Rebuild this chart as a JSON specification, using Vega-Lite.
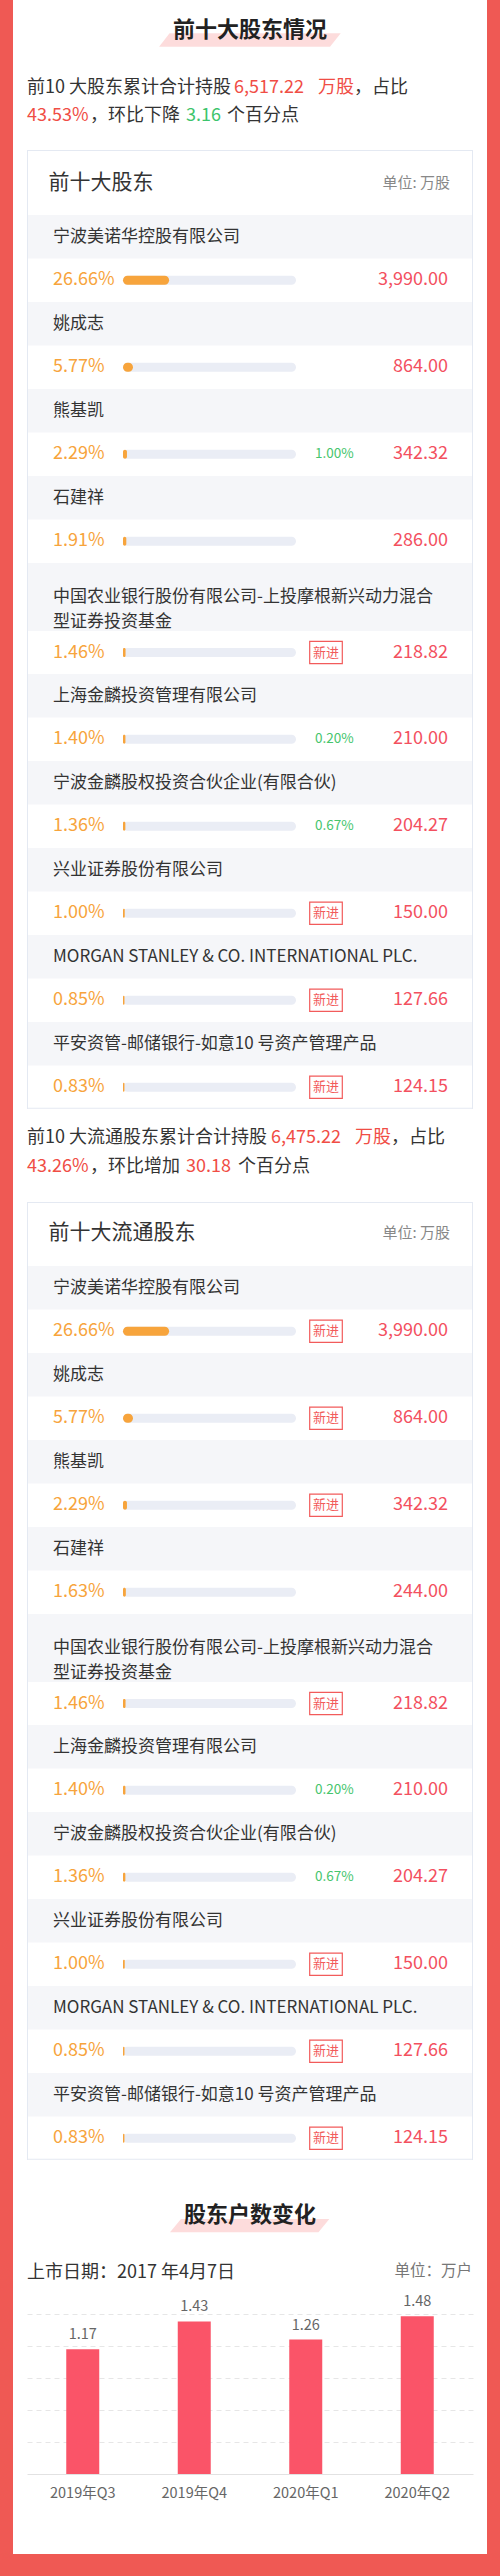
{
"$schema":"https://vega.github.io/schema/vega-lite/v6.json",
"background":"#ef5954",
"padding":{"left":13,"right":13,"top":0,"bottom":22},
"spacing":0,
"config":{"font":"Noto Sans CJK SC","view":{"fill":"#ffffff","stroke":null},"text":{"align":"left","baseline":"middle"}},
"datasets":{
"holders":[
{"t":1,"rank":1,"name":"宁波美诺华控股有限公司","pct":0.2666,"change":null,"isNew":false,"value":3990.00},
{"t":1,"rank":2,"name":"姚成志","pct":0.0577,"change":null,"isNew":false,"value":864.00},
{"t":1,"rank":3,"name":"熊基凯","pct":0.0229,"change":0.01,"isNew":false,"value":342.32},
{"t":1,"rank":4,"name":"石建祥","pct":0.0191,"change":null,"isNew":false,"value":286.00},
{"t":1,"rank":5,"name":"中国农业银行股份有限公司-上投摩根新兴动力混合\n型证券投资基金","pct":0.0146,"change":null,"isNew":true,"value":218.82},
{"t":1,"rank":6,"name":"上海金麟投资管理有限公司","pct":0.014,"change":0.002,"isNew":false,"value":210.00},
{"t":1,"rank":7,"name":"宁波金麟股权投资合伙企业(有限合伙)","pct":0.0136,"change":0.0067,"isNew":false,"value":204.27},
{"t":1,"rank":8,"name":"兴业证券股份有限公司","pct":0.01,"change":null,"isNew":true,"value":150.00},
{"t":1,"rank":9,"name":"MORGAN STANLEY & CO. INTERNATIONAL PLC.","pct":0.0085,"change":null,"isNew":true,"value":127.66},
{"t":1,"rank":10,"name":"平安资管-邮储银行-如意10 号资产管理产品","pct":0.0083,"change":null,"isNew":true,"value":124.15},
{"t":2,"rank":1,"name":"宁波美诺华控股有限公司","pct":0.2666,"change":null,"isNew":true,"value":3990.00},
{"t":2,"rank":2,"name":"姚成志","pct":0.0577,"change":null,"isNew":true,"value":864.00},
{"t":2,"rank":3,"name":"熊基凯","pct":0.0229,"change":null,"isNew":true,"value":342.32},
{"t":2,"rank":4,"name":"石建祥","pct":0.0163,"change":null,"isNew":false,"value":244.00},
{"t":2,"rank":5,"name":"中国农业银行股份有限公司-上投摩根新兴动力混合\n型证券投资基金","pct":0.0146,"change":null,"isNew":true,"value":218.82},
{"t":2,"rank":6,"name":"上海金麟投资管理有限公司","pct":0.014,"change":0.002,"isNew":false,"value":210.00},
{"t":2,"rank":7,"name":"宁波金麟股权投资合伙企业(有限合伙)","pct":0.0136,"change":0.0067,"isNew":false,"value":204.27},
{"t":2,"rank":8,"name":"兴业证券股份有限公司","pct":0.01,"change":null,"isNew":true,"value":150.00},
{"t":2,"rank":9,"name":"MORGAN STANLEY & CO. INTERNATIONAL PLC.","pct":0.0085,"change":null,"isNew":true,"value":127.66},
{"t":2,"rank":10,"name":"平安资管-邮储银行-如意10 号资产管理产品","pct":0.0083,"change":null,"isNew":true,"value":124.15}
],
"summary":[
{"t":1,"total":6517.22,"ratio":0.4353,"chg":3.16},
{"t":2,"total":6475.22,"ratio":0.4326,"chg":30.18}
],
"households":[
{"q":"2019年Q3","v":1.17},
{"q":"2019年Q4","v":1.43},
{"q":"2020年Q1","v":1.26},
{"q":"2020年Q2","v":1.48}
]
},
"vconcat":[
{"width":474,"height":66,"data":{"values":[{"title":"前十大股东情况"}]},
 "layer":[
  {"mark":{"type":"point","shape":"M-0.894,-0.074L1.008,-0.074L0.889,0.074L-1.01,0.074Z","size":32400,"filled":true,"color":"#fddcdc","opacity":1,"strokeWidth":0.01},"encoding":{"x":{"value":237},"y":{"value":40}}},
  {"mark":{"type":"text","align":"center","fontSize":22,"fontWeight":"bold","color":"#222222"},"encoding":{"x":{"value":237},"y":{"value":30},"text":{"field":"title"}}}
 ]},
{"width":474,"height":84,"data":{"name":"summary"},"transform":[{"filter":"datum.t == 1"}],
 "layer":[
  {"mark":{"type":"text","fontSize":18,"color":"#333333","text":"前10 大股东累计合计持股"},"encoding":{"x":{"value":14},"y":{"value":22}}},
  {"mark":{"type":"text","fontSize":18,"color":"#f04d45"},"encoding":{"x":{"value":221},"y":{"value":22},"text":{"field":"total","type":"quantitative","format":",.2f"}}},
  {"mark":{"type":"text","fontSize":18,"color":"#f04d45","text":"万股"},"encoding":{"x":{"value":305},"y":{"value":22}}},
  {"mark":{"type":"text","fontSize":18,"color":"#333333","text":"，占比"},"encoding":{"x":{"value":341},"y":{"value":22}}},
  {"mark":{"type":"text","fontSize":18,"color":"#f04d45"},"encoding":{"x":{"value":14},"y":{"value":50},"text":{"field":"ratio","type":"quantitative","format":".2%"}}},
  {"mark":{"type":"text","fontSize":18,"color":"#333333","text":"，环比下降"},"encoding":{"x":{"value":77},"y":{"value":50}}},
  {"mark":{"type":"text","fontSize":18,"color":"#3dc46c"},"encoding":{"x":{"value":173},"y":{"value":50},"text":{"field":"chg","type":"quantitative","format":".2f"}}},
  {"mark":{"type":"text","fontSize":18,"color":"#333333","text":"个百分点"},"encoding":{"x":{"value":214},"y":{"value":50}}}
 ]},
{"width":474,"height":65,"data":{"values":[{"head":"前十大股东","unit":"单位: 万股"}]},
 "layer":[
  {"mark":{"type":"point","shape":"M-1,-0.145516H1V-0.141032H-1Z M-1,-0.145516H-0.995516V0.145516H-1Z M0.995516,-0.145516H1V0.145516H0.995516Z","size":198916,"filled":true,"color":"#e4e9f2","opacity":1,"strokeWidth":0.01},"encoding":{"x":{"value":237},"y":{"value":32.5}}},
  {"mark":{"type":"text","fontSize":21,"color":"#333333"},"encoding":{"x":{"value":35.5},"y":{"value":33},"text":{"field":"head"}}},
  {"mark":{"type":"text","align":"right","fontSize":15,"color":"#888888"},"encoding":{"x":{"value":437},"y":{"value":33},"text":{"field":"unit"}}}
 ]},
{"data":{"name":"holders"},"transform":[{"filter":"datum.t == 1 && datum.rank <= 4"}],
 "facet":{"row":{"field":"rank","type":"ordinal","header":null}},
 "spacing":0,"bounds":"flush",
 "spec":{"width":474,"height":87,"layer":[
  {"mark":{"type":"point","shape":"M-1,-0.097748H1V0.097748H-1Z","size":197136,"filled":true,"color":"#f5f6f9","opacity":1,"strokeWidth":0.01},"encoding":{"x":{"value":237},"y":{"datum":"name","type":"nominal","scale":{"type":"band","domain":["name","bar"],"paddingInner":0,"paddingOuter":0},"axis":null}}},
  {"mark":{"type":"text","fontSize":17,"color":"#333333"},"encoding":{"x":{"value":40},"y":{"datum":"name","type":"nominal","scale":{"type":"band","domain":["name","bar"],"paddingInner":0,"paddingOuter":0},"axis":null},"text":{"field":"name"}}},
  {"mark":{"type":"bar","height":9,"cornerRadius":4.5,"color":"#eaedf5"},"encoding":{"x":{"datum":1,"type":"quantitative","stack":null,"scale":{"domain":[0,1],"range":[110,283]},"axis":null},"y":{"datum":"bar","type":"nominal","scale":{"type":"band","domain":["name","bar"],"paddingInner":0,"paddingOuter":0},"axis":null}}},
  {"mark":{"type":"bar","height":9,"cornerRadius":4.5,"color":"#f7a43c"},"encoding":{"x":{"field":"pct","type":"quantitative","stack":null,"scale":{"domain":[0,1],"range":[110,283]},"axis":null},"y":{"datum":"bar","type":"nominal","scale":{"type":"band","domain":["name","bar"],"paddingInner":0,"paddingOuter":0},"axis":null}}},
  {"mark":{"type":"text","fontSize":18,"color":"#f7a43c"},"encoding":{"x":{"value":40},"y":{"datum":"bar","type":"nominal","scale":{"type":"band","domain":["name","bar"],"paddingInner":0,"paddingOuter":0},"axis":null},"text":{"field":"pct","type":"quantitative","format":".2%"}}},
  {"transform":[{"filter":"datum.isNew"}],"mark":{"type":"point","shape":"M-1,-0.6875H1V0.6875H-1Z","size":1063,"filled":false,"color":"#f25b5b","opacity":1,"strokeWidth":1.2},"encoding":{"x":{"value":313},"y":{"datum":"bar","type":"nominal","scale":{"type":"band","domain":["name","bar"],"paddingInner":0,"paddingOuter":0},"axis":null}}},
  {"transform":[{"filter":"datum.isNew"}],"mark":{"type":"text","align":"center","fontSize":13,"color":"#f25b5b","text":"新进"},"encoding":{"x":{"value":313},"y":{"datum":"bar","type":"nominal","scale":{"type":"band","domain":["name","bar"],"paddingInner":0,"paddingOuter":0},"axis":null}}},
  {"transform":[{"filter":"isValid(datum.change)"}],"mark":{"type":"text","fontSize":13.5,"color":"#46c56d"},"encoding":{"x":{"value":302},"y":{"datum":"bar","type":"nominal","scale":{"type":"band","domain":["name","bar"],"paddingInner":0,"paddingOuter":0},"axis":null},"text":{"field":"change","type":"quantitative","format":".2%"}}},
  {"mark":{"type":"text","align":"right","fontSize":18,"color":"#f3505f"},"encoding":{"x":{"value":435},"y":{"datum":"bar","type":"nominal","scale":{"type":"band","domain":["name","bar"],"paddingInner":0,"paddingOuter":0},"axis":null},"text":{"field":"value","type":"quantitative","format":",.2f"}}},
  {"mark":{"type":"point","shape":"M-1,-0.194843H-0.995516V0.194843H-1Z M0.995516,-0.194843H1V0.194843H0.995516Z","size":198916,"filled":true,"color":"#e4e9f2","opacity":1,"strokeWidth":0.01},"encoding":{"x":{"value":237},"y":{"value":43.5}}}
 ]}},
{"width":474,"height":68,"data":{"name":"holders"},"transform":[{"filter":"datum.t == 1 && datum.rank == 5"}],
 "layer":[
  {"mark":{"type":"point","shape":"M-1,-0.152928H1V0.152928H-1Z","size":197136,"filled":true,"color":"#f5f6f9","opacity":1,"strokeWidth":0.01},"encoding":{"x":{"value":237},"y":{"value":34}}},
  {"mark":{"type":"point","shape":"M-1,-0.152242H-0.995516V0.152242H-1Z M0.995516,-0.152242H1V0.152242H0.995516Z","size":198916,"filled":true,"color":"#e4e9f2","opacity":1,"strokeWidth":0.01},"encoding":{"x":{"value":237},"y":{"value":34}}},
  {"mark":{"type":"text","fontSize":17,"color":"#333333","lineBreak":"\n","lineHeight":25.3},"encoding":{"x":{"value":40},"y":{"value":34},"text":{"field":"name"}}}
 ]},
{"width":474,"height":43,"data":{"name":"holders"},"transform":[{"filter":"datum.t == 1 && datum.rank == 5"}],
 "layer":[
  {"mark":{"type":"bar","height":9,"cornerRadius":4.5,"color":"#eaedf5"},"encoding":{"x":{"datum":1,"type":"quantitative","stack":null,"scale":{"domain":[0,1],"range":[110,283]},"axis":null},"y":{"datum":"bar","type":"nominal","scale":{"type":"band","domain":["bar"],"paddingInner":0,"paddingOuter":0},"axis":null}}},
  {"mark":{"type":"bar","height":9,"cornerRadius":4.5,"color":"#f7a43c"},"encoding":{"x":{"field":"pct","type":"quantitative","stack":null,"scale":{"domain":[0,1],"range":[110,283]},"axis":null},"y":{"datum":"bar","type":"nominal","scale":{"type":"band","domain":["bar"],"paddingInner":0,"paddingOuter":0},"axis":null}}},
  {"mark":{"type":"text","fontSize":18,"color":"#f7a43c"},"encoding":{"x":{"value":40},"y":{"datum":"bar","type":"nominal","scale":{"type":"band","domain":["bar"],"paddingInner":0,"paddingOuter":0},"axis":null},"text":{"field":"pct","type":"quantitative","format":".2%"}}},
  {"transform":[{"filter":"datum.isNew"}],"mark":{"type":"point","shape":"M-1,-0.6875H1V0.6875H-1Z","size":1063,"filled":false,"color":"#f25b5b","opacity":1,"strokeWidth":1.2},"encoding":{"x":{"value":313},"y":{"datum":"bar","type":"nominal","scale":{"type":"band","domain":["bar"],"paddingInner":0,"paddingOuter":0},"axis":null}}},
  {"transform":[{"filter":"datum.isNew"}],"mark":{"type":"text","align":"center","fontSize":13,"color":"#f25b5b","text":"新进"},"encoding":{"x":{"value":313},"y":{"datum":"bar","type":"nominal","scale":{"type":"band","domain":["bar"],"paddingInner":0,"paddingOuter":0},"axis":null}}},
  {"transform":[{"filter":"isValid(datum.change)"}],"mark":{"type":"text","fontSize":13.5,"color":"#46c56d"},"encoding":{"x":{"value":302},"y":{"datum":"bar","type":"nominal","scale":{"type":"band","domain":["bar"],"paddingInner":0,"paddingOuter":0},"axis":null},"text":{"field":"change","type":"quantitative","format":".2%"}}},
  {"mark":{"type":"text","align":"right","fontSize":18,"color":"#f3505f"},"encoding":{"x":{"value":435},"y":{"datum":"bar","type":"nominal","scale":{"type":"band","domain":["bar"],"paddingInner":0,"paddingOuter":0},"axis":null},"text":{"field":"value","type":"quantitative","format":",.2f"}}},
  {"mark":{"type":"point","shape":"M-1,-0.096188H-0.995516V0.096188H-1Z M0.995516,-0.096188H1V0.096188H0.995516Z","size":198916,"filled":true,"color":"#e4e9f2","opacity":1,"strokeWidth":0.01},"encoding":{"x":{"value":237},"y":{"value":21.5}}}
 ]},
{"data":{"name":"holders"},"transform":[{"filter":"datum.t == 1 && datum.rank >= 6"}],
 "facet":{"row":{"field":"rank","type":"ordinal","header":null}},
 "spacing":0,"bounds":"flush",
 "spec":{"width":474,"height":87,"layer":[
  {"mark":{"type":"point","shape":"M-1,-0.097748H1V0.097748H-1Z","size":197136,"filled":true,"color":"#f5f6f9","opacity":1,"strokeWidth":0.01},"encoding":{"x":{"value":237},"y":{"datum":"name","type":"nominal","scale":{"type":"band","domain":["name","bar"],"paddingInner":0,"paddingOuter":0},"axis":null}}},
  {"mark":{"type":"text","fontSize":17,"color":"#333333"},"encoding":{"x":{"value":40},"y":{"datum":"name","type":"nominal","scale":{"type":"band","domain":["name","bar"],"paddingInner":0,"paddingOuter":0},"axis":null},"text":{"field":"name"}}},
  {"mark":{"type":"bar","height":9,"cornerRadius":4.5,"color":"#eaedf5"},"encoding":{"x":{"datum":1,"type":"quantitative","stack":null,"scale":{"domain":[0,1],"range":[110,283]},"axis":null},"y":{"datum":"bar","type":"nominal","scale":{"type":"band","domain":["name","bar"],"paddingInner":0,"paddingOuter":0},"axis":null}}},
  {"mark":{"type":"bar","height":9,"cornerRadius":4.5,"color":"#f7a43c"},"encoding":{"x":{"field":"pct","type":"quantitative","stack":null,"scale":{"domain":[0,1],"range":[110,283]},"axis":null},"y":{"datum":"bar","type":"nominal","scale":{"type":"band","domain":["name","bar"],"paddingInner":0,"paddingOuter":0},"axis":null}}},
  {"mark":{"type":"text","fontSize":18,"color":"#f7a43c"},"encoding":{"x":{"value":40},"y":{"datum":"bar","type":"nominal","scale":{"type":"band","domain":["name","bar"],"paddingInner":0,"paddingOuter":0},"axis":null},"text":{"field":"pct","type":"quantitative","format":".2%"}}},
  {"transform":[{"filter":"datum.isNew"}],"mark":{"type":"point","shape":"M-1,-0.6875H1V0.6875H-1Z","size":1063,"filled":false,"color":"#f25b5b","opacity":1,"strokeWidth":1.2},"encoding":{"x":{"value":313},"y":{"datum":"bar","type":"nominal","scale":{"type":"band","domain":["name","bar"],"paddingInner":0,"paddingOuter":0},"axis":null}}},
  {"transform":[{"filter":"datum.isNew"}],"mark":{"type":"text","align":"center","fontSize":13,"color":"#f25b5b","text":"新进"},"encoding":{"x":{"value":313},"y":{"datum":"bar","type":"nominal","scale":{"type":"band","domain":["name","bar"],"paddingInner":0,"paddingOuter":0},"axis":null}}},
  {"transform":[{"filter":"isValid(datum.change)"}],"mark":{"type":"text","fontSize":13.5,"color":"#46c56d"},"encoding":{"x":{"value":302},"y":{"datum":"bar","type":"nominal","scale":{"type":"band","domain":["name","bar"],"paddingInner":0,"paddingOuter":0},"axis":null},"text":{"field":"change","type":"quantitative","format":".2%"}}},
  {"mark":{"type":"text","align":"right","fontSize":18,"color":"#f3505f"},"encoding":{"x":{"value":435},"y":{"datum":"bar","type":"nominal","scale":{"type":"band","domain":["name","bar"],"paddingInner":0,"paddingOuter":0},"axis":null},"text":{"field":"value","type":"quantitative","format":",.2f"}}},
  {"mark":{"type":"point","shape":"M-1,-0.194843H-0.995516V0.194843H-1Z M0.995516,-0.194843H1V0.194843H0.995516Z","size":198916,"filled":true,"color":"#e4e9f2","opacity":1,"strokeWidth":0.01},"encoding":{"x":{"value":237},"y":{"value":43.5}}},
  {"transform":[{"filter":"datum.rank == 10"}],"mark":{"type":"point","shape":"M-1,-0.002242H1V0.002242H-1Z","size":198916,"filled":true,"color":"#e4e9f2","opacity":1,"strokeWidth":0.01},"encoding":{"x":{"value":237},"y":{"value":86.3}}}
 ]}},
{"width":474,"height":93,"data":{"name":"summary"},"transform":[{"filter":"datum.t == 2"}],
 "layer":[
  {"mark":{"type":"text","fontSize":18,"color":"#333333","text":"前10 大流通股东累计合计持股"},"encoding":{"x":{"value":14},"y":{"value":29}}},
  {"mark":{"type":"text","fontSize":18,"color":"#f04d45"},"encoding":{"x":{"value":258},"y":{"value":29},"text":{"field":"total","type":"quantitative","format":",.2f"}}},
  {"mark":{"type":"text","fontSize":18,"color":"#f04d45","text":"万股"},"encoding":{"x":{"value":342},"y":{"value":29}}},
  {"mark":{"type":"text","fontSize":18,"color":"#333333","text":"，占比"},"encoding":{"x":{"value":378},"y":{"value":29}}},
  {"mark":{"type":"text","fontSize":18,"color":"#f04d45"},"encoding":{"x":{"value":14},"y":{"value":57.7},"text":{"field":"ratio","type":"quantitative","format":".2%"}}},
  {"mark":{"type":"text","fontSize":18,"color":"#333333","text":"，环比增加"},"encoding":{"x":{"value":77},"y":{"value":57.7}}},
  {"mark":{"type":"text","fontSize":18,"color":"#f04d45"},"encoding":{"x":{"value":173},"y":{"value":57.7},"text":{"field":"chg","type":"quantitative","format":".2f"}}},
  {"mark":{"type":"text","fontSize":18,"color":"#333333","text":"个百分点"},"encoding":{"x":{"value":225},"y":{"value":57.7}}}
 ]},
{"width":474,"height":64,"data":{"values":[{"head":"前十大流通股东","unit":"单位: 万股"}]},
 "layer":[
  {"mark":{"type":"point","shape":"M-1,-0.143274H1V-0.13879H-1Z M-1,-0.143274H-0.995516V0.143274H-1Z M0.995516,-0.143274H1V0.143274H0.995516Z","size":198916,"filled":true,"color":"#e4e9f2","opacity":1,"strokeWidth":0.01},"encoding":{"x":{"value":237},"y":{"value":32}}},
  {"mark":{"type":"text","fontSize":21,"color":"#333333"},"encoding":{"x":{"value":35.5},"y":{"value":31.3},"text":{"field":"head"}}},
  {"mark":{"type":"text","align":"right","fontSize":15,"color":"#888888"},"encoding":{"x":{"value":437},"y":{"value":31.3},"text":{"field":"unit"}}}
 ]},
{"data":{"name":"holders"},"transform":[{"filter":"datum.t == 2 && datum.rank <= 4"}],
 "facet":{"row":{"field":"rank","type":"ordinal","header":null}},
 "spacing":0,"bounds":"flush",
 "spec":{"width":474,"height":87,"layer":[
  {"mark":{"type":"point","shape":"M-1,-0.097748H1V0.097748H-1Z","size":197136,"filled":true,"color":"#f5f6f9","opacity":1,"strokeWidth":0.01},"encoding":{"x":{"value":237},"y":{"datum":"name","type":"nominal","scale":{"type":"band","domain":["name","bar"],"paddingInner":0,"paddingOuter":0},"axis":null}}},
  {"mark":{"type":"text","fontSize":17,"color":"#333333"},"encoding":{"x":{"value":40},"y":{"datum":"name","type":"nominal","scale":{"type":"band","domain":["name","bar"],"paddingInner":0,"paddingOuter":0},"axis":null},"text":{"field":"name"}}},
  {"mark":{"type":"bar","height":9,"cornerRadius":4.5,"color":"#eaedf5"},"encoding":{"x":{"datum":1,"type":"quantitative","stack":null,"scale":{"domain":[0,1],"range":[110,283]},"axis":null},"y":{"datum":"bar","type":"nominal","scale":{"type":"band","domain":["name","bar"],"paddingInner":0,"paddingOuter":0},"axis":null}}},
  {"mark":{"type":"bar","height":9,"cornerRadius":4.5,"color":"#f7a43c"},"encoding":{"x":{"field":"pct","type":"quantitative","stack":null,"scale":{"domain":[0,1],"range":[110,283]},"axis":null},"y":{"datum":"bar","type":"nominal","scale":{"type":"band","domain":["name","bar"],"paddingInner":0,"paddingOuter":0},"axis":null}}},
  {"mark":{"type":"text","fontSize":18,"color":"#f7a43c"},"encoding":{"x":{"value":40},"y":{"datum":"bar","type":"nominal","scale":{"type":"band","domain":["name","bar"],"paddingInner":0,"paddingOuter":0},"axis":null},"text":{"field":"pct","type":"quantitative","format":".2%"}}},
  {"transform":[{"filter":"datum.isNew"}],"mark":{"type":"point","shape":"M-1,-0.6875H1V0.6875H-1Z","size":1063,"filled":false,"color":"#f25b5b","opacity":1,"strokeWidth":1.2},"encoding":{"x":{"value":313},"y":{"datum":"bar","type":"nominal","scale":{"type":"band","domain":["name","bar"],"paddingInner":0,"paddingOuter":0},"axis":null}}},
  {"transform":[{"filter":"datum.isNew"}],"mark":{"type":"text","align":"center","fontSize":13,"color":"#f25b5b","text":"新进"},"encoding":{"x":{"value":313},"y":{"datum":"bar","type":"nominal","scale":{"type":"band","domain":["name","bar"],"paddingInner":0,"paddingOuter":0},"axis":null}}},
  {"transform":[{"filter":"isValid(datum.change)"}],"mark":{"type":"text","fontSize":13.5,"color":"#46c56d"},"encoding":{"x":{"value":302},"y":{"datum":"bar","type":"nominal","scale":{"type":"band","domain":["name","bar"],"paddingInner":0,"paddingOuter":0},"axis":null},"text":{"field":"change","type":"quantitative","format":".2%"}}},
  {"mark":{"type":"text","align":"right","fontSize":18,"color":"#f3505f"},"encoding":{"x":{"value":435},"y":{"datum":"bar","type":"nominal","scale":{"type":"band","domain":["name","bar"],"paddingInner":0,"paddingOuter":0},"axis":null},"text":{"field":"value","type":"quantitative","format":",.2f"}}},
  {"mark":{"type":"point","shape":"M-1,-0.194843H-0.995516V0.194843H-1Z M0.995516,-0.194843H1V0.194843H0.995516Z","size":198916,"filled":true,"color":"#e4e9f2","opacity":1,"strokeWidth":0.01},"encoding":{"x":{"value":237},"y":{"value":43.5}}}
 ]}},
{"width":474,"height":68,"data":{"name":"holders"},"transform":[{"filter":"datum.t == 2 && datum.rank == 5"}],
 "layer":[
  {"mark":{"type":"point","shape":"M-1,-0.152928H1V0.152928H-1Z","size":197136,"filled":true,"color":"#f5f6f9","opacity":1,"strokeWidth":0.01},"encoding":{"x":{"value":237},"y":{"value":34}}},
  {"mark":{"type":"point","shape":"M-1,-0.152242H-0.995516V0.152242H-1Z M0.995516,-0.152242H1V0.152242H0.995516Z","size":198916,"filled":true,"color":"#e4e9f2","opacity":1,"strokeWidth":0.01},"encoding":{"x":{"value":237},"y":{"value":34}}},
  {"mark":{"type":"text","fontSize":17,"color":"#333333","lineBreak":"\n","lineHeight":25.3},"encoding":{"x":{"value":40},"y":{"value":34},"text":{"field":"name"}}}
 ]},
{"width":474,"height":43,"data":{"name":"holders"},"transform":[{"filter":"datum.t == 2 && datum.rank == 5"}],
 "layer":[
  {"mark":{"type":"bar","height":9,"cornerRadius":4.5,"color":"#eaedf5"},"encoding":{"x":{"datum":1,"type":"quantitative","stack":null,"scale":{"domain":[0,1],"range":[110,283]},"axis":null},"y":{"datum":"bar","type":"nominal","scale":{"type":"band","domain":["bar"],"paddingInner":0,"paddingOuter":0},"axis":null}}},
  {"mark":{"type":"bar","height":9,"cornerRadius":4.5,"color":"#f7a43c"},"encoding":{"x":{"field":"pct","type":"quantitative","stack":null,"scale":{"domain":[0,1],"range":[110,283]},"axis":null},"y":{"datum":"bar","type":"nominal","scale":{"type":"band","domain":["bar"],"paddingInner":0,"paddingOuter":0},"axis":null}}},
  {"mark":{"type":"text","fontSize":18,"color":"#f7a43c"},"encoding":{"x":{"value":40},"y":{"datum":"bar","type":"nominal","scale":{"type":"band","domain":["bar"],"paddingInner":0,"paddingOuter":0},"axis":null},"text":{"field":"pct","type":"quantitative","format":".2%"}}},
  {"transform":[{"filter":"datum.isNew"}],"mark":{"type":"point","shape":"M-1,-0.6875H1V0.6875H-1Z","size":1063,"filled":false,"color":"#f25b5b","opacity":1,"strokeWidth":1.2},"encoding":{"x":{"value":313},"y":{"datum":"bar","type":"nominal","scale":{"type":"band","domain":["bar"],"paddingInner":0,"paddingOuter":0},"axis":null}}},
  {"transform":[{"filter":"datum.isNew"}],"mark":{"type":"text","align":"center","fontSize":13,"color":"#f25b5b","text":"新进"},"encoding":{"x":{"value":313},"y":{"datum":"bar","type":"nominal","scale":{"type":"band","domain":["bar"],"paddingInner":0,"paddingOuter":0},"axis":null}}},
  {"transform":[{"filter":"isValid(datum.change)"}],"mark":{"type":"text","fontSize":13.5,"color":"#46c56d"},"encoding":{"x":{"value":302},"y":{"datum":"bar","type":"nominal","scale":{"type":"band","domain":["bar"],"paddingInner":0,"paddingOuter":0},"axis":null},"text":{"field":"change","type":"quantitative","format":".2%"}}},
  {"mark":{"type":"text","align":"right","fontSize":18,"color":"#f3505f"},"encoding":{"x":{"value":435},"y":{"datum":"bar","type":"nominal","scale":{"type":"band","domain":["bar"],"paddingInner":0,"paddingOuter":0},"axis":null},"text":{"field":"value","type":"quantitative","format":",.2f"}}},
  {"mark":{"type":"point","shape":"M-1,-0.096188H-0.995516V0.096188H-1Z M0.995516,-0.096188H1V0.096188H0.995516Z","size":198916,"filled":true,"color":"#e4e9f2","opacity":1,"strokeWidth":0.01},"encoding":{"x":{"value":237},"y":{"value":21.5}}}
 ]},
{"data":{"name":"holders"},"transform":[{"filter":"datum.t == 2 && datum.rank >= 6"}],
 "facet":{"row":{"field":"rank","type":"ordinal","header":null}},
 "spacing":0,"bounds":"flush",
 "spec":{"width":474,"height":87,"layer":[
  {"mark":{"type":"point","shape":"M-1,-0.097748H1V0.097748H-1Z","size":197136,"filled":true,"color":"#f5f6f9","opacity":1,"strokeWidth":0.01},"encoding":{"x":{"value":237},"y":{"datum":"name","type":"nominal","scale":{"type":"band","domain":["name","bar"],"paddingInner":0,"paddingOuter":0},"axis":null}}},
  {"mark":{"type":"text","fontSize":17,"color":"#333333"},"encoding":{"x":{"value":40},"y":{"datum":"name","type":"nominal","scale":{"type":"band","domain":["name","bar"],"paddingInner":0,"paddingOuter":0},"axis":null},"text":{"field":"name"}}},
  {"mark":{"type":"bar","height":9,"cornerRadius":4.5,"color":"#eaedf5"},"encoding":{"x":{"datum":1,"type":"quantitative","stack":null,"scale":{"domain":[0,1],"range":[110,283]},"axis":null},"y":{"datum":"bar","type":"nominal","scale":{"type":"band","domain":["name","bar"],"paddingInner":0,"paddingOuter":0},"axis":null}}},
  {"mark":{"type":"bar","height":9,"cornerRadius":4.5,"color":"#f7a43c"},"encoding":{"x":{"field":"pct","type":"quantitative","stack":null,"scale":{"domain":[0,1],"range":[110,283]},"axis":null},"y":{"datum":"bar","type":"nominal","scale":{"type":"band","domain":["name","bar"],"paddingInner":0,"paddingOuter":0},"axis":null}}},
  {"mark":{"type":"text","fontSize":18,"color":"#f7a43c"},"encoding":{"x":{"value":40},"y":{"datum":"bar","type":"nominal","scale":{"type":"band","domain":["name","bar"],"paddingInner":0,"paddingOuter":0},"axis":null},"text":{"field":"pct","type":"quantitative","format":".2%"}}},
  {"transform":[{"filter":"datum.isNew"}],"mark":{"type":"point","shape":"M-1,-0.6875H1V0.6875H-1Z","size":1063,"filled":false,"color":"#f25b5b","opacity":1,"strokeWidth":1.2},"encoding":{"x":{"value":313},"y":{"datum":"bar","type":"nominal","scale":{"type":"band","domain":["name","bar"],"paddingInner":0,"paddingOuter":0},"axis":null}}},
  {"transform":[{"filter":"datum.isNew"}],"mark":{"type":"text","align":"center","fontSize":13,"color":"#f25b5b","text":"新进"},"encoding":{"x":{"value":313},"y":{"datum":"bar","type":"nominal","scale":{"type":"band","domain":["name","bar"],"paddingInner":0,"paddingOuter":0},"axis":null}}},
  {"transform":[{"filter":"isValid(datum.change)"}],"mark":{"type":"text","fontSize":13.5,"color":"#46c56d"},"encoding":{"x":{"value":302},"y":{"datum":"bar","type":"nominal","scale":{"type":"band","domain":["name","bar"],"paddingInner":0,"paddingOuter":0},"axis":null},"text":{"field":"change","type":"quantitative","format":".2%"}}},
  {"mark":{"type":"text","align":"right","fontSize":18,"color":"#f3505f"},"encoding":{"x":{"value":435},"y":{"datum":"bar","type":"nominal","scale":{"type":"band","domain":["name","bar"],"paddingInner":0,"paddingOuter":0},"axis":null},"text":{"field":"value","type":"quantitative","format":",.2f"}}},
  {"mark":{"type":"point","shape":"M-1,-0.194843H-0.995516V0.194843H-1Z M0.995516,-0.194843H1V0.194843H0.995516Z","size":198916,"filled":true,"color":"#e4e9f2","opacity":1,"strokeWidth":0.01},"encoding":{"x":{"value":237},"y":{"value":43.5}}},
  {"transform":[{"filter":"datum.rank == 10"}],"mark":{"type":"point","shape":"M-1,-0.002242H1V0.002242H-1Z","size":198916,"filled":true,"color":"#e4e9f2","opacity":1,"strokeWidth":0.01},"encoding":{"x":{"value":237},"y":{"value":86.3}}}
 ]}},
{"width":474,"height":90,"data":{"values":[{"title":"股东户数变化"}]},
 "layer":[
  {"mark":{"type":"point","shape":"M-0.859,-0.083L0.995,-0.083L0.86,0.083L-0.996,0.083Z","size":25600,"filled":true,"color":"#fddcdc","opacity":1,"strokeWidth":0.01},"encoding":{"x":{"value":236.7},"y":{"value":65.7}}},
  {"mark":{"type":"text","align":"center","fontSize":22,"fontWeight":"bold","color":"#222222"},"encoding":{"x":{"value":237},"y":{"value":55},"text":{"field":"title"}}}
 ]},
{"width":474,"height":40,"data":{"values":[{"listing":"上市日期：2017 年4月7日","unit":"单位：万户"}]},
 "layer":[
  {"mark":{"type":"text","fontSize":18,"color":"#333333"},"encoding":{"x":{"value":14},"y":{"value":23},"text":{"field":"listing"}}},
  {"mark":{"type":"text","align":"right","fontSize":15.5,"color":"#777777"},"encoding":{"x":{"value":459},"y":{"value":20.7},"text":{"field":"unit"}}}
 ]},
{"width":474,"height":264,"data":{"name":"households"},
 "encoding":{
  "x":{"field":"q","type":"nominal","sort":null,"scale":{"type":"band","range":[14,460],"paddingInner":0,"paddingOuter":0},"axis":{"orient":"bottom","offset":-80,"title":null,"labelAngle":0,"ticks":false,"tickSize":0,"labelPadding":12,"labelFontSize":14.5,"labelColor":"#666666","domainColor":"#e2e2e2","grid":false}},
  "y":{"field":"v","type":"quantitative","scale":{"domain":[0,1.5],"range":[184,24],"nice":false},"axis":{"title":null,"labels":false,"ticks":false,"domain":false,"grid":true,"gridDash":[5,4],"gridColor":"#e6e6e6","values":[0.3,0.6,0.9,1.2,1.5]}}},
 "layer":[
  {"mark":{"type":"bar","width":33,"color":"#fa5468"}},
  {"mark":{"type":"text","align":"center","dy":-14,"fontSize":14.5,"color":"#666666"},"encoding":{"text":{"field":"v","type":"quantitative","format":".2f"}}}
 ]}
]
}
